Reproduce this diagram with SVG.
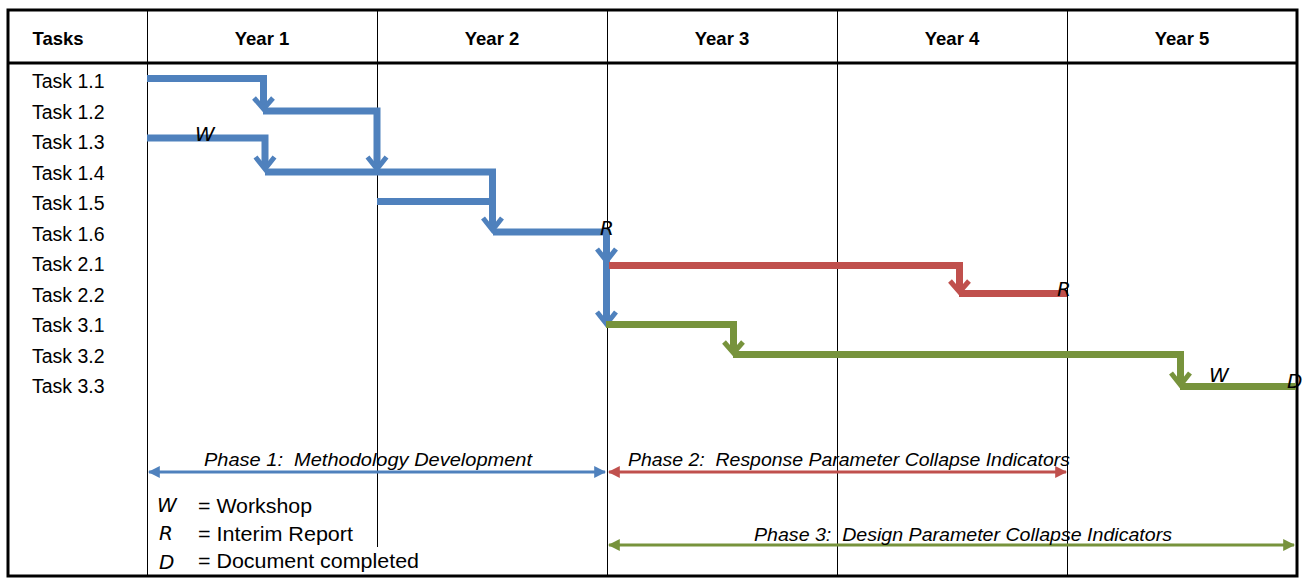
<svg xmlns="http://www.w3.org/2000/svg" width="1305" height="578" viewBox="0 0 1305 578">
<style>
.hdr{font-family:"Liberation Sans",Arial,sans-serif;font-weight:bold;font-size:18.5px;fill:#000;text-anchor:middle}
.task{font-family:"Liberation Sans",Arial,sans-serif;font-size:19.5px;fill:#000}
.mk{font-family:"DejaVu Sans","Liberation Sans",sans-serif;font-style:italic;font-weight:200;font-size:20px;fill:#000}
.ph{font-family:"Liberation Sans",Arial,sans-serif;font-style:italic;font-size:18.5px;fill:#000;white-space:pre}
.leg{font-family:"Liberation Sans",Arial,sans-serif;font-size:20px;fill:#000}
.grid{stroke:#000;stroke-width:1;fill:none}
.bar{fill:none;stroke-width:7;stroke-linejoin:miter;stroke-linecap:butt}
.ah{fill:none;stroke-width:5;stroke-linejoin:miter;stroke-linecap:butt}
.blue{stroke:#4F81BD}.red{stroke:#C0504D}.green{stroke:#77933C}
.phl{stroke-width:3;fill:none}
</style>
<defs>
<marker id="mb" viewBox="0 0 10 10" refX="9" refY="5" markerWidth="4" markerHeight="4" orient="auto-start-reverse" markerUnits="strokeWidth"><path d="M0,0 L10,5 L0,10 Z" fill="#4F81BD"/></marker>
<marker id="mr" viewBox="0 0 10 10" refX="9" refY="5" markerWidth="4" markerHeight="4" orient="auto-start-reverse" markerUnits="strokeWidth"><path d="M0,0 L10,5 L0,10 Z" fill="#C0504D"/></marker>
<marker id="mg" viewBox="0 0 10 10" refX="9" refY="5" markerWidth="4" markerHeight="4" orient="auto-start-reverse" markerUnits="strokeWidth"><path d="M0,0 L10,5 L0,10 Z" fill="#77933C"/></marker>
</defs>
<rect x="0" y="0" width="1305" height="578" fill="#fff"/>
<g id="table">
<line class="grid" x1="147.5" y1="10" x2="147.5" y2="576"/>
<line class="grid" x1="377.5" y1="10" x2="377.5" y2="547"/>
<line class="grid" x1="607.5" y1="10" x2="607.5" y2="576"/>
<line class="grid" x1="837.5" y1="10" x2="837.5" y2="576"/>
<line class="grid" x1="1067.5" y1="10" x2="1067.5" y2="576"/>
<line x1="8" y1="63" x2="1297" y2="63" stroke="#000" stroke-width="3"/>
<rect x="8" y="10" width="1289" height="566" fill="none" stroke="#000" stroke-width="3"/>
<text class="hdr" x="58" y="45">Tasks</text>
<text class="hdr" x="262" y="45">Year 1</text>
<text class="hdr" x="492" y="45">Year 2</text>
<text class="hdr" x="722" y="45">Year 3</text>
<text class="hdr" x="952" y="45">Year 4</text>
<text class="hdr" x="1182" y="45">Year 5</text>
</g>
<g id="task-labels">
<text class="task" x="32" y="88">Task 1.1</text>
<text class="task" x="32" y="118.5">Task 1.2</text>
<text class="task" x="32" y="149">Task 1.3</text>
<text class="task" x="32" y="179.5">Task 1.4</text>
<text class="task" x="32" y="210">Task 1.5</text>
<text class="task" x="32" y="240.5">Task 1.6</text>
<text class="task" x="32" y="271">Task 2.1</text>
<text class="task" x="32" y="301.5">Task 2.2</text>
<text class="task" x="32" y="332">Task 3.1</text>
<text class="task" x="32" y="362.5">Task 3.2</text>
<text class="task" x="32" y="393">Task 3.3</text>
</g>
<g id="connectors">
<path class="bar blue" d="M147,78.5 H263.5 V108"/>
<polyline class="ah blue" points="254,98 263.5,109 273,98"/>
<path class="bar blue" d="M263,111 H377 V168"/>
<polyline class="ah blue" points="367.5,157 377,169 386.5,157"/>
<path class="bar blue" d="M147,138 H265 V168"/>
<polyline class="ah blue" points="255.5,157 265,169 274.5,157"/>
<path class="bar blue" d="M265,172 H492.5 V229"/>
<polyline class="ah blue" points="483,218 492.5,230 502,218"/>
<path class="bar blue" d="M377,201.5 H491"/>
<path class="bar blue" d="M493,232 H606.5 V322"/>
<polyline class="ah blue" points="597,249 606.5,261 616,249"/>
<polyline class="ah blue" points="597,312 606.5,324 616,312"/>
<path class="bar red" d="M609,265.5 H959.5 V291"/>
<polyline class="ah red" points="950,281 959.5,292 969,281"/>
<path class="bar red" d="M959,293.5 H1067"/>
<path class="bar green" d="M606,324.5 H733.5 V352"/>
<polyline class="ah green" points="724,342 733.5,353 743,342"/>
<path class="bar green" d="M733,354.5 H1180.5 V384"/>
<polyline class="ah green" points="1171,373 1180.5,385 1190,373"/>
<path class="bar green" d="M1180,386.5 H1296"/>
</g>
<g id="markers">
<text class="mk" x="195" y="141">W</text>
<text class="mk" x="600" y="235">R</text>
<text class="mk" x="1057" y="296">R</text>
<text class="mk" x="1209" y="382">W</text>
<text class="mk" x="1287" y="388">D</text>
</g>
<g id="phases">
<line class="phl" x1="149" y1="472" x2="605" y2="472" stroke="#4F81BD" marker-start="url(#mb)" marker-end="url(#mb)"/>
<text class="ph" x="204" y="466" textLength="328" lengthAdjust="spacingAndGlyphs" xml:space="preserve">Phase 1:  Methodology Development</text>
<line class="phl" x1="609" y1="472" x2="1066" y2="472" stroke="#C0504D" marker-start="url(#mr)" marker-end="url(#mr)"/>
<text class="ph" x="628" y="466" textLength="442" lengthAdjust="spacingAndGlyphs" xml:space="preserve">Phase 2:  Response Parameter Collapse Indicators</text>
<line class="phl" x1="609" y1="545" x2="1294" y2="545" stroke="#77933C" marker-start="url(#mg)" marker-end="url(#mg)"/>
<text class="ph" x="754" y="541" textLength="418" lengthAdjust="spacingAndGlyphs" xml:space="preserve">Phase 3:  Design Parameter Collapse Indicators</text>
</g>
<g id="legend">
<text class="mk" x="157" y="512">W</text>
<text class="leg" x="198" y="513" textLength="114" lengthAdjust="spacingAndGlyphs">= Workshop</text>
<text class="mk" x="159" y="540">R</text>
<text class="leg" x="198" y="541" textLength="155" lengthAdjust="spacingAndGlyphs">= Interim Report</text>
<text class="mk" x="159" y="569">D</text>
<text class="leg" x="198" y="568" textLength="221" lengthAdjust="spacingAndGlyphs">= Document completed</text>
</g>
</svg>
